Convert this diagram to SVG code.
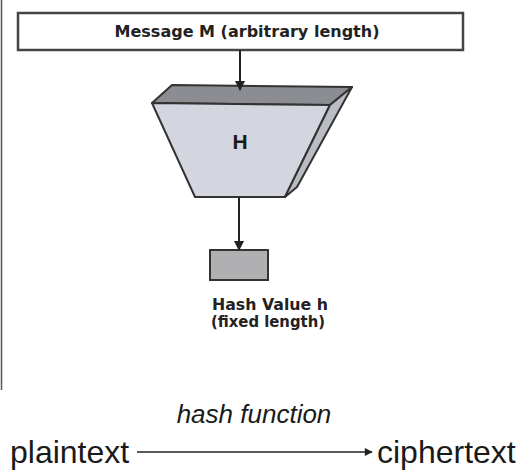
<svg xmlns="http://www.w3.org/2000/svg" width="518" height="470" viewBox="0 0 518 470">
<style>
.lbl{font-family:"DejaVu Sans","Verdana",sans-serif;font-weight:bold;fill:#222}
.big{font-family:"Liberation Sans",Arial,sans-serif;fill:#1a1a1a}
.edge{stroke:#222;stroke-width:2;fill:none}
.outline{stroke:#333;stroke-width:2;stroke-linejoin:round}
</style>
<defs>
<marker id="ah" viewBox="0 0 10 10" refX="9" refY="5" markerWidth="5" markerHeight="5.5" orient="auto" markerUnits="strokeWidth">
<path d="M0,0 L10,5 L0,10 z" fill="#222"/>
</marker>
<marker id="ahs" viewBox="0 0 10 10" refX="9" refY="5" markerWidth="6" markerHeight="5" orient="auto" markerUnits="strokeWidth">
<path d="M0,0 L10,5 L0,10 z" fill="#222"/>
</marker>
</defs>
<rect width="518" height="470" fill="#ffffff"/>
<line x1="1.5" y1="0" x2="1.5" y2="390" stroke="#555" stroke-width="1.5"/>
<g id="message">
<rect x="18" y="13" width="445" height="37" fill="#fff" stroke="#444" stroke-width="2.5"/>
<text class="lbl" x="247" y="37" font-size="15" text-anchor="middle" textLength="265" lengthAdjust="spacingAndGlyphs">Message M (arbitrary length)</text>
</g>
<g id="hash">
<polygon class="outline" points="152,103 172,85 352,87 330,105" fill="#8b8d92"/>
<polygon class="outline" points="152,103 330,105 285,197 195,197" fill="#d3d6de"/>
<polygon class="outline" points="330,105 352,87 297,187 285,197" fill="#b9bcc3"/>
<text class="big" x="240" y="149" font-size="21" font-weight="bold" text-anchor="middle">H</text>
</g>
<g id="hashvalue">
<rect x="210" y="250" width="58" height="30" fill="#b0b0b2" stroke="#333" stroke-width="2"/>
<text class="lbl" x="270" y="310" font-size="15.5" text-anchor="middle" textLength="116" lengthAdjust="spacingAndGlyphs">Hash Value h</text>
<text class="lbl" x="268" y="327" font-size="15.5" text-anchor="middle" textLength="114" lengthAdjust="spacingAndGlyphs">(fixed length)</text>
</g>
<g id="plaintext">
<text class="big" x="10" y="463" font-size="32">plaintext</text>
</g>
<g id="ciphertext">
<text class="big" x="377" y="463" font-size="32">ciphertext</text>
</g>
<g id="connectors">
<line class="edge" x1="240" y1="50" x2="240" y2="90" marker-end="url(#ah)"/>
<line class="edge" x1="239" y1="197" x2="239" y2="250" marker-end="url(#ah)"/>
<line x1="137" y1="452" x2="372" y2="452" stroke="#222" stroke-width="1.6" marker-end="url(#ahs)"/>
<text class="big" x="254" y="423" font-size="26" font-style="italic" text-anchor="middle">hash function</text>
</g>
</svg>
